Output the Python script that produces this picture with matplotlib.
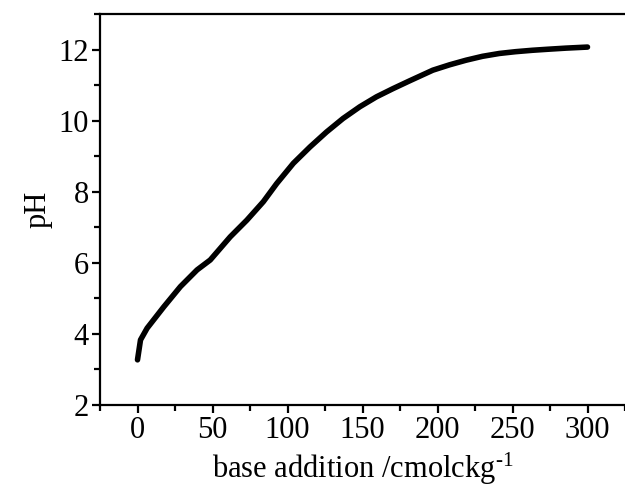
import matplotlib
matplotlib.use("Agg")
import matplotlib.pyplot as plt
from matplotlib.ticker import MultipleLocator

plt.rcParams['font.family'] = ['Liberation Serif', 'DejaVu Serif']
plt.rcParams['mathtext.fontset'] = 'custom'
plt.rcParams['mathtext.rm'] = 'Liberation Serif'
plt.rcParams['mathtext.it'] = 'Liberation Serif:italic'

# titration curve: base added (cmolc/kg) vs pH
base_added = [0, 1, 2, 6.4, 17.5, 28.6, 39.7, 48.5, 61.8, 72.9, 83.9, 92.8,
              103.9, 115, 126, 137, 148.2, 159.3, 170.3, 181.4, 196.9, 208,
              219, 230, 241.2, 252, 263.3, 274, 285.5, 300]
ph = [3.27, 3.55, 3.83, 4.16, 4.76, 5.33, 5.80, 6.08, 6.73, 7.20, 7.72, 8.23,
      8.80, 9.26, 9.68, 10.06, 10.39, 10.67, 10.90, 11.12, 11.42, 11.57,
      11.70, 11.81, 11.89, 11.94, 11.98, 12.01, 12.04, 12.07]

fig = plt.figure(figsize=(6.25, 4.9), dpi=100)
ax = fig.add_axes([0.16, 0.1735, 0.84, 0.7979])

ax.plot(base_added, ph, color='black', linewidth=4.0,
        solid_capstyle='round', solid_joinstyle='round')

ax.set_xlim(-25, 325)
ax.set_ylim(2, 13)
ax.xaxis.set_major_locator(MultipleLocator(50))
ax.xaxis.set_minor_locator(MultipleLocator(25))
ax.yaxis.set_major_locator(MultipleLocator(2))
ax.yaxis.set_minor_locator(MultipleLocator(1))

ax.spines['right'].set_visible(False)
for s in ('left', 'bottom', 'top'):
    ax.spines[s].set_linewidth(1.6)

ax.tick_params(which='both', direction='out', width=1.6, labelsize=22,
               top=False, right=False)
ax.tick_params(which='major', length=6, pad=2)
ax.tick_params(which='minor', length=4)

ax.set_xlabel(r'base addition /cmolckg$^{\text{-1}}$', fontsize=22, labelpad=4)
ax.set_ylabel('pH', fontsize=22, labelpad=4)

fig.savefig('out.png', dpi=100)
